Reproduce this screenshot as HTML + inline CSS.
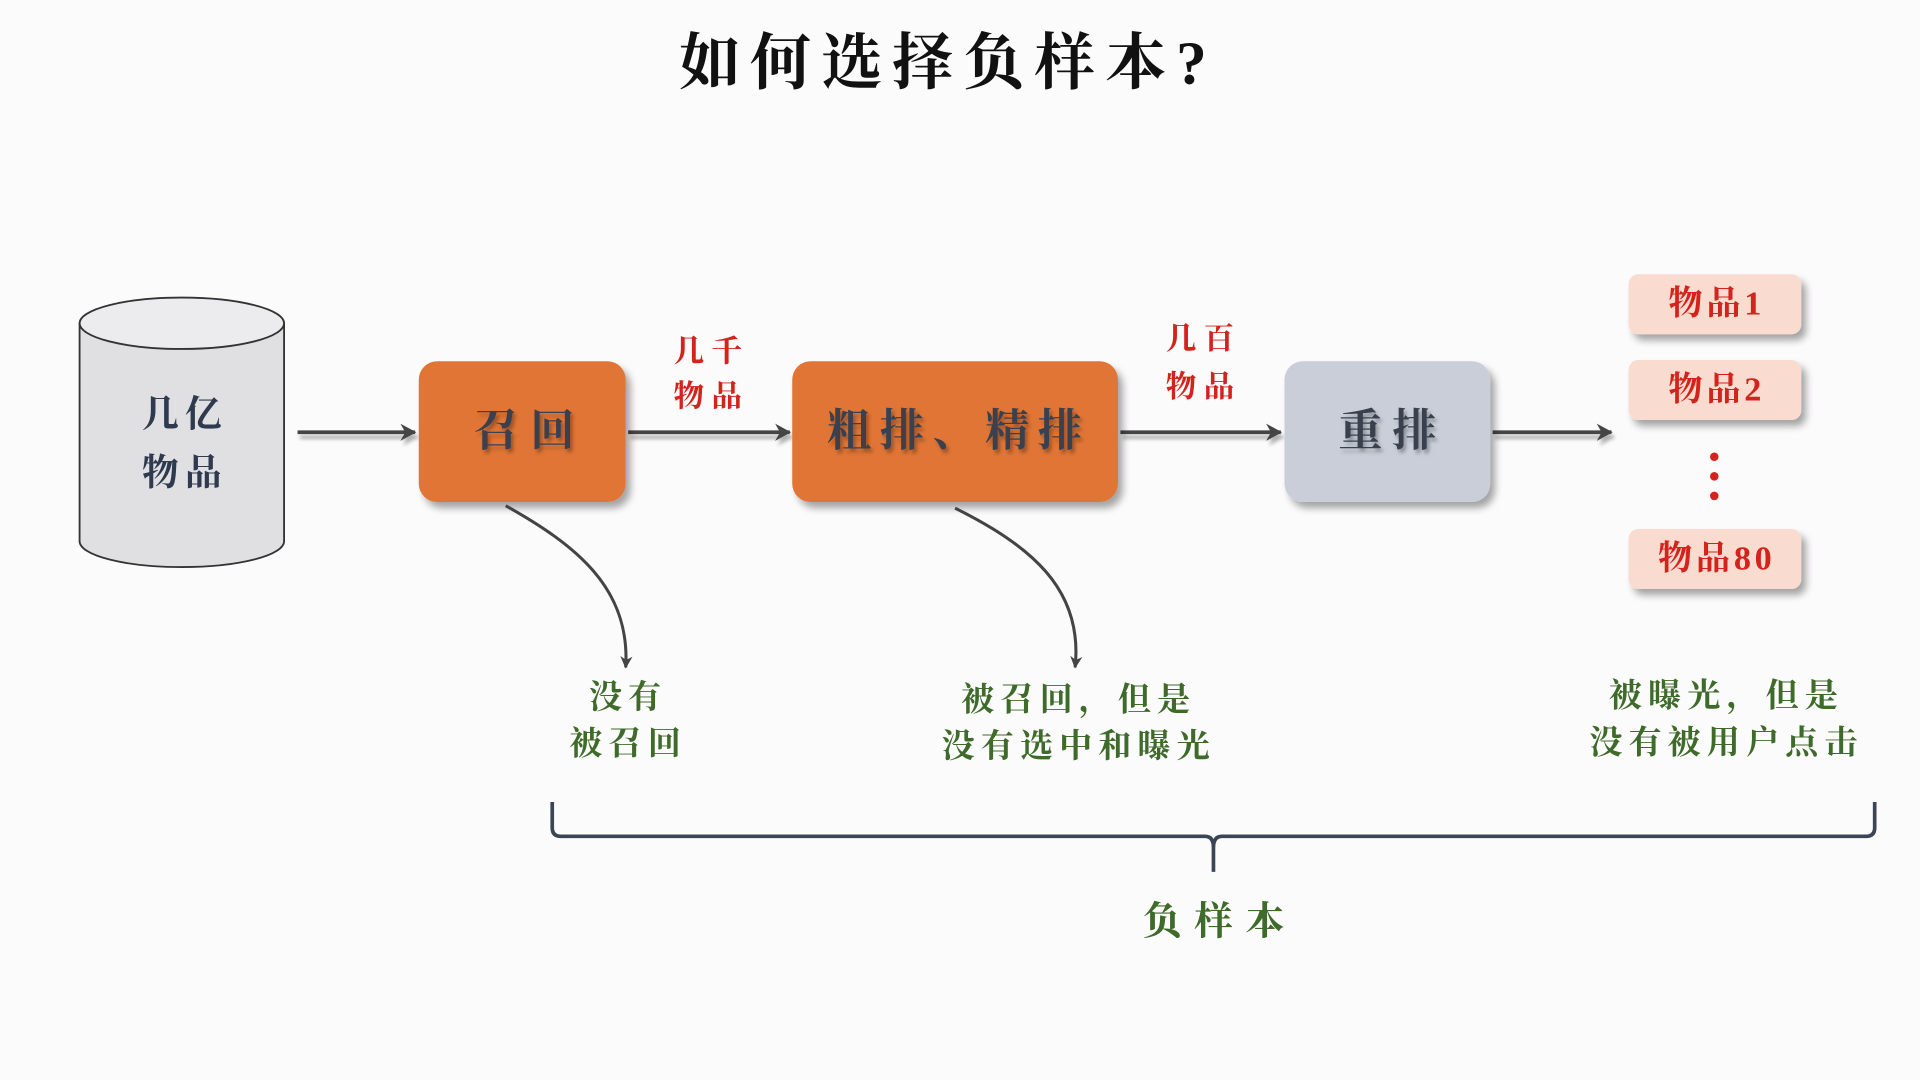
<!DOCTYPE html>
<html><head><meta charset="utf-8"><style>
html,body{margin:0;padding:0;background:#fcfbfc;width:1920px;height:1080px;overflow:hidden}
svg{display:block}
text{font-family:"Liberation Serif","Noto Serif CJK SC","Noto Sans CJK SC",serif;text-anchor:middle;dominant-baseline:central}
</style></head><body>
<svg width="1920" height="1080" viewBox="0 0 1568 882" xmlns="http://www.w3.org/2000/svg">
<defs>
<filter id="sh" x="-20%" y="-20%" width="150%" height="160%"><feDropShadow dx="4" dy="5" stdDeviation="3" flood-color="#000" flood-opacity="0.35"/></filter>
<filter id="ts" x="-20%" y="-20%" width="150%" height="160%"><feDropShadow dx="2" dy="3" stdDeviation="1.5" flood-color="#000" flood-opacity="0.3"/></filter>
<filter id="ls" filterUnits="userSpaceOnUse" x="0" y="300" width="1568" height="120"><feDropShadow dx="2" dy="4" stdDeviation="1.5" flood-color="#000" flood-opacity="0.3"/></filter>
<marker id="ah" markerWidth="10" markerHeight="10" refX="9" refY="5" orient="auto" markerUnits="userSpaceOnUse"><path d="M0,0 L10,5 L0,10 L3,5 Z" fill="#444"/></marker>
<marker id="ah2" markerWidth="14" markerHeight="14" refX="12" refY="7" orient="auto" markerUnits="userSpaceOnUse"><path d="M0,0 L13,7 L0,14 L4,7 Z" fill="#444"/></marker>
</defs>
<rect width="1568" height="882" fill="#fcfbfc"/>
<text x="774" y="52" font-size="50" font-weight="bold" fill="#111" letter-spacing="8">如何选择负样本?</text>

<path d="M65,264 L65,442 A83,21 0 0 0 232,442 L232,264" fill="#e0e0e3" stroke="#333" stroke-width="1.5"/>
<ellipse cx="148.5" cy="264" rx="83.5" ry="21" fill="#ececee" stroke="#333" stroke-width="1.5"/>
<text x="151" y="338" font-size="30" font-weight="bold" fill="#2f3a4f" letter-spacing="5">几亿</text>
<text x="151" y="386" font-size="30" font-weight="bold" fill="#2f3a4f" letter-spacing="5">物品</text>

<g stroke="#444" stroke-width="3" filter="url(#ls)">
<line x1="243" y1="353" x2="339" y2="353" marker-end="url(#ah2)"/>
<line x1="513" y1="353" x2="645" y2="353" marker-end="url(#ah2)"/>
<line x1="915" y1="353" x2="1046" y2="353" marker-end="url(#ah2)"/>
<line x1="1219" y1="353" x2="1316" y2="353" marker-end="url(#ah2)"/>
</g>

<rect x="342" y="295" width="169" height="115" rx="15" fill="#e07535" filter="url(#sh)"/>
<text x="433" y="352" font-size="36" font-weight="bold" fill="#3a4050" filter="url(#ts)" letter-spacing="10">召回</text>
<rect x="647" y="295" width="266" height="115" rx="15" fill="#e07535" filter="url(#sh)"/>
<text x="783" y="352" font-size="36" font-weight="bold" fill="#3a4050" filter="url(#ts)" letter-spacing="7">粗排、精排</text>
<rect x="1049" y="295" width="168" height="115" rx="15" fill="#c9ced8" filter="url(#sh)"/>
<text x="1137" y="352" font-size="36" font-weight="bold" fill="#3a4050" filter="url(#ts)" letter-spacing="8">重排</text>

<g font-size="25" font-weight="bold" fill="#d4231c" letter-spacing="6">
<text x="581" y="287">几千</text>
<text x="581" y="324">物品</text>
<text x="983" y="277">几百</text>
<text x="983" y="316">物品</text>
</g>

<g filter="url(#sh)">
<rect x="1330" y="224" width="141" height="49" rx="8" fill="#f9dccf"/>
<rect x="1330" y="294" width="141" height="49" rx="8" fill="#f9dccf"/>
<rect x="1330" y="432" width="141" height="49" rx="8" fill="#f9dccf"/>
</g>
<g font-size="28" font-weight="bold" fill="#d4231c" letter-spacing="3">
<text x="1402" y="248">物品1</text>
<text x="1402" y="318">物品2</text>
<text x="1402" y="456">物品80</text>
</g>
<circle cx="1400" cy="373" r="3.5" fill="#d4231c"/>
<circle cx="1400" cy="389" r="3.5" fill="#d4231c"/>
<circle cx="1400" cy="405" r="3.5" fill="#d4231c"/>

<path d="M413,413 C470,445 515,480 511,545" fill="none" stroke="#444" stroke-width="2.5" marker-end="url(#ah)"/>
<path d="M780,415 C840,445 885,480 878,545" fill="none" stroke="#444" stroke-width="2.5" marker-end="url(#ah)"/>

<g font-size="27" font-weight="bold" fill="#3e6b2a" letter-spacing="5">
<text x="513" y="570">没有</text>
<text x="513" y="608">被召回</text>
<text x="881" y="572">被召回，但是</text>
<text x="881" y="610">没有选中和曝光</text>
<text x="1410" y="569">被曝光，但是</text>
<text x="1410" y="607">没有被用户点击</text>
</g>

<path d="M451,655 L451,676 Q451,683 458,683 L984,683 Q991,683 991,692 L991,712 M991,692 Q991,683 998,683 L1524,683 Q1531,683 1531,676 L1531,655" fill="none" stroke="#3a4556" stroke-width="3"/>
<text x="996" y="753" font-size="32" font-weight="bold" fill="#3e6b2a" letter-spacing="10">负样本</text>
</svg>
</body></html>
